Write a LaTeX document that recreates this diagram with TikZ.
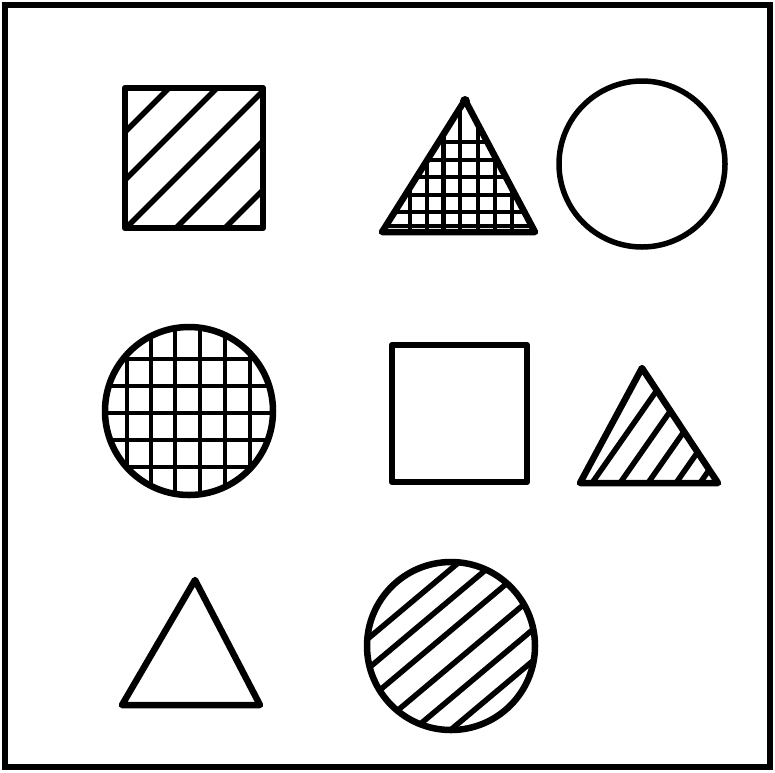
\documentclass[tikz,border=0pt]{standalone}
\begin{document}
\begin{tikzpicture}[x=1pt,y=-1pt,
  outline/.style={line width=6.5pt,line join=round,line cap=round},
  thinout/.style={line width=5.5pt,line join=round},
  hatch/.style={line width=5.5pt},
  gridline/.style={line width=4.8pt}]
\useasboundingbox (0,0) rectangle (775,772);
\fill[white] (0,0) rectangle (775,772);
% frame
\draw[line width=6pt] (5,5) rectangle (770,767);

% 1: square with diagonal hatching
\begin{scope}
  \clip (125,88) rectangle (263,228);
  \foreach \c in {257,305,354,404,453}
    \draw[hatch] (\c-238,238) -- (\c-78,78);
\end{scope}
\draw[outline] (125,88) rectangle (263,228);

% 2: triangle with grid
\begin{scope}
  \clip (382,232) -- (535,232) -- (465,100) -- cycle;
  \foreach \x in {410,427,443.5,460,478,495,512}
    \draw[gridline] (\x,90) -- (\x,240);
  \foreach \y in {142,160,177,195,212,226}
    \draw[gridline] (370,\y) -- (545,\y);
\end{scope}
\draw[outline] (382,232) -- (535,232) -- (465,100) -- cycle;
\fill (465,101) circle (5);

% 3: plain circle
\draw[thinout] (642,164) circle (83);

% 4: circle with grid
\begin{scope}
  \clip (189,411) circle (84);
  \foreach \x in {127,151,175,200,225,250}
    \draw[gridline] (\x,320) -- (\x,500);
  \foreach \y in {359,386,413,440,467}
    \draw[gridline] (100,\y) -- (280,\y);
\end{scope}
\draw[outline] (189,411) circle (84);

% 5: plain square
\draw[outline] (392,345) rectangle (527,482);

% 6: triangle with hatching
\begin{scope}
  \clip (580,483) -- (718,483) -- (642,368) -- cycle;
  \foreach \b in {592,620,648,676,700}
    \draw[hatch] (\b-10,497.3) -- (\b+100,340);
\end{scope}
\draw[outline] (580,483) -- (718,483) -- (642,368) -- cycle;

% 7: plain triangle
\draw[outline] (122,705) -- (260,705) -- (195,580) -- cycle;

% 8: circle with hatching
\begin{scope}
  \clip (451,646) circle (84);
  \foreach \o in {-59,-36,-12,15,40,64}
    \draw[hatch] (451+\o*0.643-110*0.766,646+\o*0.766+110*0.643)
              -- (451+\o*0.643+110*0.766,646+\o*0.766-110*0.643);
\end{scope}
\draw[outline] (451,646) circle (84);
\end{tikzpicture}
\end{document}
